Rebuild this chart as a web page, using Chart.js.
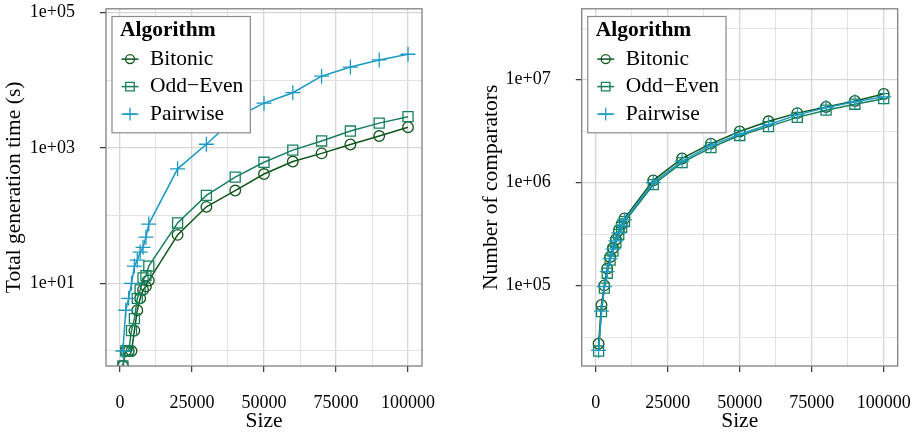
<!DOCTYPE html>
<html>
  <head>
    <title>Sorting network generation</title>
    <style>
      html, body { margin: 0; padding: 0; background: #ffffff; }
      #wrap { position: relative; width: 918px; height: 434px; }
      canvas { position: absolute; top: 0; }
      #timeChart { left: 0; }
      #compChart { left: 459px; }
    </style>
    <script src="https://cdn.jsdelivr.net/npm/chart.js"></script>
  </head>
  <body>
    <div id="wrap">
      <canvas id="timeChart" width="459" height="434"></canvas>
      <canvas id="compChart" width="459" height="434"></canvas>
    </div>

    <script>
      // network sizes (x axis of both panels)
      var sizes = [1000, 2000, 3000, 4000, 5000, 6000, 7000, 8000, 9000, 10000,
                   20000, 30000, 40000, 50000, 60000, 70000, 80000, 90000, 100000];
      var algorithms = ["Bitonic", "Odd\u2212Even", "Pairwise"];

      // total generation time in whole seconds (0 = below one second)
      var bitonicTime  = [0, 1, 1, 1, 2, 4, 6, 8, 9, 11,
                          52, 135, 235, 412, 630, 832, 1125, 1500, 2030];
      var oddEvenTime  = [0, 1, 1, 2, 3, 6, 8, 12, 13, 18,
                          78, 199, 372, 615, 929, 1270, 1780, 2330, 2900];
      var pairwiseTime = [1, 4, 6, 10, 18, 22, 29, 34, 48, 75,
                          492, 1135, 2800, 4590, 6560, 11500, 15700, 20000, 24300];

      // number of comparators in the generated network
      var bitonicComp  = [27300, 64900, 100600, 147000, 190000, 232000, 281000, 343000, 396000, 450000,
                          1052000, 1718000, 2390000, 3135000, 3940000, 4730000, 5430000, 6200000, 7260000];
      var oddEvenComp  = [23200, 56000, 94800, 132000, 177000, 216000, 261000, 314000, 369000, 418000,
                          955000, 1563000, 2190000, 2870000, 3500000, 4300000, 5050000, 5770000, 6530000];
      var pairwiseComp = [23500, 56700, 98000, 137000, 183000, 226000, 272000, 326000, 380000, 435000,
                          1000000, 1620000, 2300000, 2950000, 3650000, 4550000, 5350000, 6100000, 6800000];

      // axis breaks and labels
      var sizeTicks = [0, 25000, 50000, 75000, 100000];
      var sizeMinor = [12500, 37500, 62500, 87500];
      var timeTicks = [10, 1000, 100000];
      var timeTickLabels = ["1e+01", "1e+03", "1e+05"];
      var timeMinor = [1, 100, 10000];
      var compTicks = [100000, 1000000, 10000000];
      var compTickLabels = ["1e+05", "1e+06", "1e+07"];
      var compMinor = [31623, 316228, 3162278, 31622777];

      var sizeRange = [-4860, 104860];
      var timeRange = [0.6, 114000];
      var compRange = [16600, 48700000];

      var colors = ["#0f561a", "#177f5c", "#1a9ac2"];
      var markers = [
        { style: "circle", radius: 5.3 },
        { style: "rect", radius: 7.1 },
        { style: "cross", radius: 7.5 }
      ];
      var serif = "'Liberation Serif', 'DejaVu Serif', serif";

      function isIn(list, v) {
        for (var i = 0; i < list.length; i++) {
          if (Math.abs(list[i] - v) <= Math.abs(v) * 1e-6) return i;
        }
        return -1;
      }

      function buildDatasets(series, yMin) {
        return series.map(function (values, k) {
          return {
            label: algorithms[k],
            // like ggplot, a zero on the log axis sits on the panel edge
            data: values.map(function (v, i) {
              return { x: sizes[i], y: v > 0 ? v : yMin };
            }),
            borderColor: colors[k],
            borderWidth: 1.5,
            pointStyle: markers[k].style,
            pointRadius: markers[k].radius,
            pointBorderWidth: 1.3,
            pointBorderColor: colors[k],
            pointBackgroundColor: "rgba(0,0,0,0)",
            tension: 0,
            fill: false,
            order: 3 - k
          };
        });
      }

      // white legend box with title, line and marker keys
      var boxLegend = {
        id: "boxLegend",
        afterDraw: function (chart) {
          var ctx = chart.ctx;
          var area = chart.chartArea;
          var left = area.left + 6;
          var top = area.top + 7.7;
          ctx.save();
          ctx.font = "21.5px " + serif;
          var maxW = 0;
          chart.data.datasets.forEach(function (ds) {
            maxW = Math.max(maxW, ctx.measureText(ds.label).width);
          });
          var w = 38 + maxW + 7;
          var h = 116.3;
          ctx.fillStyle = "#ffffff";
          ctx.fillRect(left, top, w, h);
          ctx.strokeStyle = "#8a8a8a";
          ctx.lineWidth = 1.2;
          ctx.strokeRect(left, top, w, h);

          ctx.fillStyle = "#000000";
          ctx.textBaseline = "middle";
          ctx.textAlign = "left";
          ctx.font = "bold 21.5px " + serif;
          ctx.fillText("Algorithm", left + 8, top + 13.6);

          ctx.font = "21.5px " + serif;
          chart.data.datasets.forEach(function (ds, k) {
            var cy = top + 42.6 + k * 27.5;
            var cx = left + 18;
            ctx.strokeStyle = ds.borderColor;
            ctx.lineWidth = 1.5;
            ctx.beginPath();
            ctx.moveTo(left + 9.5, cy);
            ctx.lineTo(left + 26.5, cy);
            ctx.stroke();
            ctx.lineWidth = 1.3;
            ctx.beginPath();
            var r = ds.pointRadius * 0.85;
            if (ds.pointStyle === "circle") {
              ctx.arc(cx, cy, r, 0, Math.PI * 2);
            } else if (ds.pointStyle === "rect") {
              var s = r * Math.SQRT1_2;
              ctx.rect(cx - s, cy - s, 2 * s, 2 * s);
            } else {
              ctx.moveTo(cx - r, cy);
              ctx.lineTo(cx + r, cy);
              ctx.moveTo(cx, cy - r);
              ctx.lineTo(cx, cy + r);
            }
            ctx.stroke();
            ctx.fillStyle = "#000000";
            ctx.fillText(ds.label, left + 38, cy);
          });
          ctx.restore();
        }
      };

      // grey panel border like theme_bw
      var panelBorder = {
        id: "panelBorder",
        afterDatasetsDraw: function (chart) {
          var a = chart.chartArea;
          var ctx = chart.ctx;
          ctx.save();
          ctx.strokeStyle = "#808080";
          ctx.lineWidth = 1.3;
          ctx.strokeRect(a.left, a.top, a.right - a.left, a.bottom - a.top);
          ctx.restore();
        }
      };

      function makeChart(canvasId, series, yRange, yTicks, yLabels, yMinor,
                         yTitle, yWidth, rightPad, yTitlePad) {
        var ctx = document.getElementById(canvasId).getContext("2d");
        return new Chart(ctx, {
          type: "line",
          data: { datasets: buildDatasets(series, yRange[0]) },
          options: {
            responsive: false,
            animation: false,
            devicePixelRatio: 1,
            layout: { padding: { top: 3, right: rightPad, left: 0, bottom: 0 } },
            plugins: { legend: { display: false }, tooltip: { enabled: false } },
            scales: {
              x: {
                type: "linear",
                min: sizeRange[0],
                max: sizeRange[1],
                afterBuildTicks: function (scale) {
                  scale.ticks = sizeTicks.concat(sizeMinor).sort(function (a, b) { return a - b; })
                    .map(function (v) { return { value: v }; });
                },
                afterFit: function (scale) {
                  scale.height = 68;
                  scale.paddingLeft = 0;
                  scale.paddingRight = 0;
                },
                border: { display: false },
                grid: {
                  color: function (c) { return isIn(sizeTicks, c.tick.value) >= 0 ? "#d6d6d6" : "#e3e3e3"; },
                  lineWidth: function (c) { return isIn(sizeTicks, c.tick.value) >= 0 ? 1.3 : 1.0; },
                  tickColor: function (c) { return isIn(sizeTicks, c.tick.value) >= 0 ? "#333333" : "rgba(0,0,0,0)"; },
                  tickWidth: 1.2,
                  tickLength: 6
                },
                ticks: {
                  autoSkip: false,
                  maxRotation: 0,
                  padding: 22,
                  color: "#000000",
                  font: { family: serif, size: 18, lineHeight: 1 },
                  callback: function (v) { return isIn(sizeTicks, v) >= 0 ? String(v) : ""; }
                },
                title: {
                  display: true,
                  text: "Size",
                  color: "#000000",
                  padding: { top: 0, bottom: 2 },
                  font: { family: serif, size: 21.5, lineHeight: 1 }
                }
              },
              y: {
                type: "logarithmic",
                min: yRange[0],
                max: yRange[1],
                afterBuildTicks: function (scale) {
                  scale.ticks = yTicks.concat(yMinor).sort(function (a, b) { return a - b; })
                    .map(function (v) { return { value: v }; });
                },
                afterFit: function (scale) {
                  scale.width = yWidth;
                  scale.paddingTop = 0;
                  scale.paddingBottom = 0;
                },
                border: { display: false },
                grid: {
                  color: function (c) { return isIn(yTicks, c.tick.value) >= 0 ? "#d6d6d6" : "#e3e3e3"; },
                  lineWidth: function (c) { return isIn(yTicks, c.tick.value) >= 0 ? 1.3 : 1.0; },
                  tickColor: function (c) { return isIn(yTicks, c.tick.value) >= 0 ? "#333333" : "rgba(0,0,0,0)"; },
                  tickWidth: 1.2,
                  tickLength: 6
                },
                ticks: {
                  autoSkip: false,
                  padding: 25,
                  color: "#000000",
                  font: { family: serif, size: 18, lineHeight: 1 },
                  callback: function (v) {
                    var i = isIn(yTicks, v);
                    return i >= 0 ? yLabels[i] : "";
                  }
                },
                title: {
                  display: true,
                  text: yTitle,
                  color: "#000000",
                  padding: { top: yTitlePad, bottom: 0 },
                  font: { family: serif, size: 21.5, lineHeight: 1 }
                }
              }
            }
          },
          plugins: [panelBorder, boxLegend]
        });
      }

      makeChart("timeChart", [bitonicTime, oddEvenTime, pairwiseTime], timeRange,
                timeTicks, timeTickLabels, timeMinor,
                "Total generation time (s)", 106, 37, 4);
      makeChart("compChart", [bitonicComp, oddEvenComp, pairwiseComp], compRange,
                compTicks, compTickLabels, compMinor,
                "Number of comparators", 122.7, 20.3, 22);
    </script>
  </body>
</html>
